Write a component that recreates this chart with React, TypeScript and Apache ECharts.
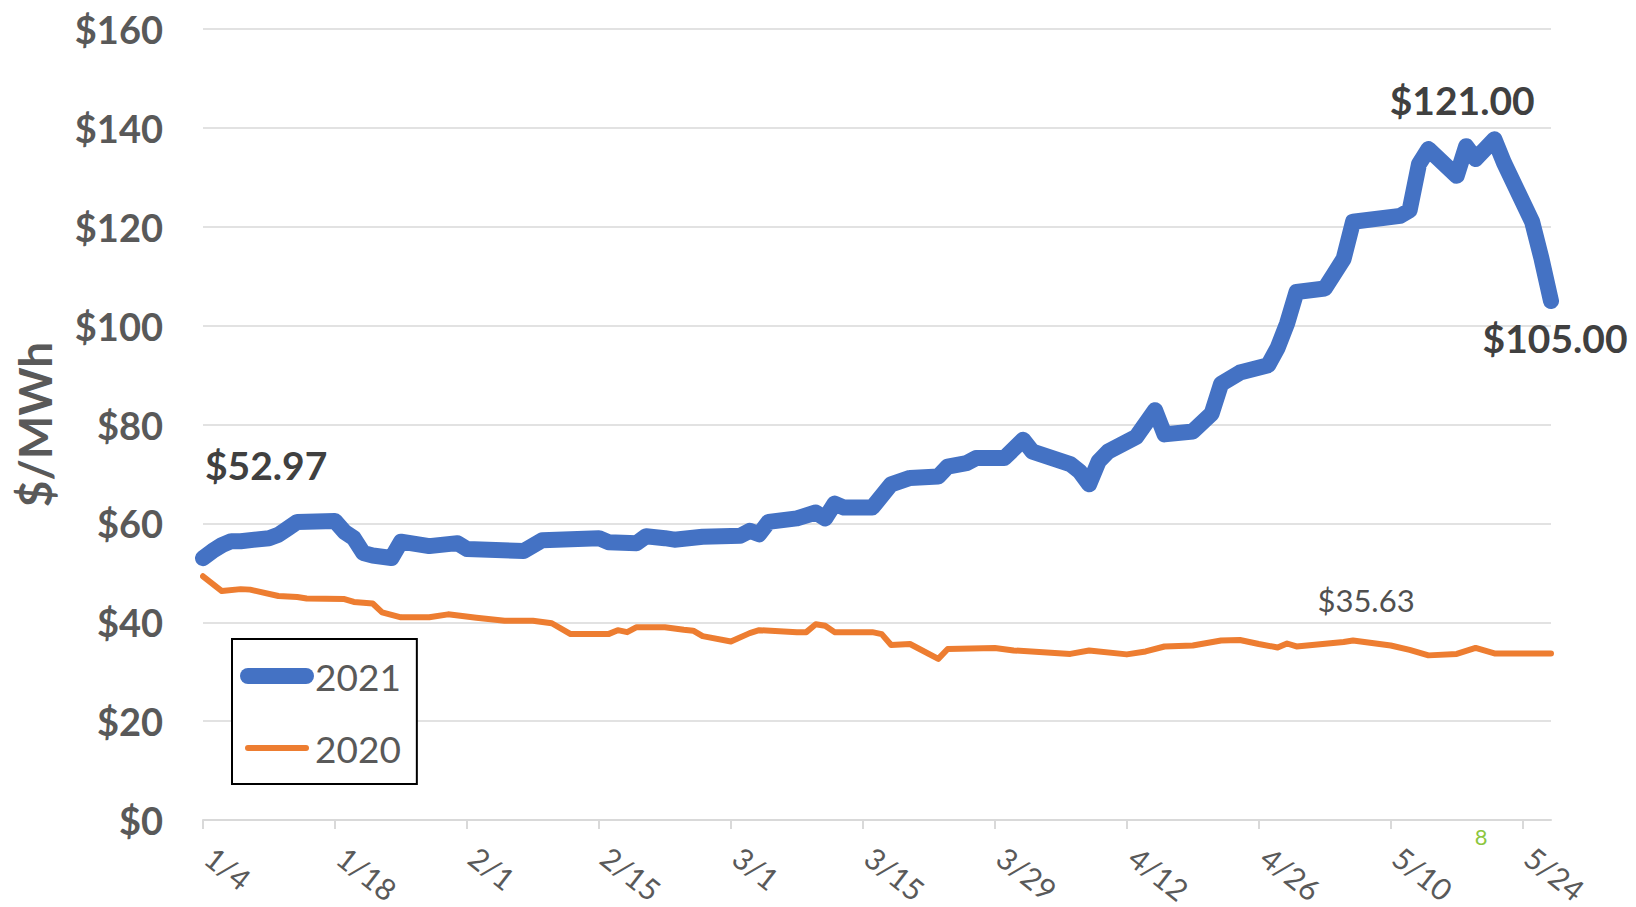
import React, { useEffect, useRef } from "react";
import * as echarts from "echarts";

// ---- data ----
const START = Date.UTC(2021, 0, 4);
const LAST_DATE = "5/27";
const xTickDates = ["1/4", "1/18", "2/1", "2/15", "3/1", "3/15", "3/29", "4/12", "4/26", "5/10", "5/24"];
const yTicks = [0, 20, 40, 60, 80, 100, 120, 140, 160];

const dates2021 = [
  "1/4", "1/5", "1/6", "1/7", "1/8", "1/11", "1/12", "1/13", "1/14", "1/18", "1/19", "1/20", "1/21", "1/22", "1/24",
  "1/25", "1/26", "1/28", "1/31", "2/1", "2/7", "2/9", "2/15", "2/16", "2/19", "2/20", "2/22", "2/23", "2/26",
  "3/2", "3/3", "3/4", "3/5", "3/8", "3/10", "3/11", "3/12", "3/13", "3/16", "3/18", "3/20", "3/23", "3/24",
  "3/26", "3/27", "3/30", "4/1", "4/2", "4/6", "4/7", "4/8", "4/9", "4/10", "4/13", "4/15", "4/16", "4/19",
  "4/21", "4/22", "4/24", "4/27", "4/28", "4/29", "4/30", "5/3", "5/4", "5/5", "5/6", "5/11", "5/12", "5/13",
  "5/14", "5/17", "5/18", "5/19", "5/21", "5/22", "5/25", "5/26", "5/27",
];
const prices2021 = [
  52.97, 54.4, 55.6, 56.4, 56.4, 57.0, 57.7, 59.0, 60.3, 60.5, 58.3, 57.0, 54.0, 53.5, 53.0,
  56.3, 56.0, 55.4, 56.0, 54.8, 54.4, 56.6, 57.0, 56.2, 56.0, 57.4, 57.0, 56.7, 57.3,
  57.5, 58.5, 57.8, 60.3, 61.0, 62.2, 61.0, 64.0, 63.2, 63.2, 67.9, 69.2, 69.5, 71.5,
  72.2, 73.2, 73.2, 76.9, 74.5, 72.0, 70.5, 67.9, 72.5, 74.5, 77.5, 82.9, 78.0, 78.6,
  82.2, 88.2, 90.5, 92.0, 95.5, 100.4, 106.8, 107.5, 110.5, 113.5, 121.0, 122.2, 123.3, 132.7,
  135.7, 130.3, 136.3, 133.7, 137.7, 133.0, 121.0, 113.5, 105.0,
];

const dates2020 = [
  "1/4", "1/6", "1/8", "1/9", "1/12", "1/14", "1/15", "1/19", "1/20", "1/22", "1/23", "1/25", "1/28", "1/30",
  "2/2", "2/5", "2/8", "2/10", "2/12", "2/16", "2/17", "2/18", "2/19", "2/22", "2/24", "2/25", "2/26",
  "3/1", "3/3", "3/4", "3/8", "3/9", "3/10", "3/11", "3/12", "3/16", "3/17", "3/18", "3/20", "3/23", "3/24",
  "3/29", "3/31", "4/6", "4/8", "4/12", "4/14", "4/16", "4/19", "4/22", "4/24", "4/26", "4/28", "4/29",
  "4/30", "5/5", "5/6", "5/10", "5/12", "5/14", "5/17", "5/19", "5/21", "5/27",
];
const prices2020 = [
  49.3, 46.3, 46.7, 46.6, 45.3, 45.1, 44.8, 44.7, 44.1, 43.8, 42.0, 41.0, 41.0, 41.6,
  40.9, 40.3, 40.3, 39.8, 37.6, 37.6, 38.4, 38.0, 39.0, 39.0, 38.5, 38.3, 37.2,
  36.1, 37.8, 38.4, 38.0, 38.0, 39.6, 39.3, 38.0, 38.0, 37.6, 35.4, 35.6, 32.6, 34.6,
  34.8, 34.3, 33.6, 34.3, 33.5, 34.1, 35.1, 35.3, 36.3, 36.4, 35.6, 34.9, 35.7,
  35.1, 36.0, 36.3, 35.3, 34.4, 33.3, 33.6, 34.8, 33.7, 33.7,
];

const labelDates2021 = ["1/4", "5/18", "5/27"];
const labelTexts2021 = ["$52.97", "$121.00", "$105.00"];
const labelDates2020 = ["5/6"];
const labelTexts2020 = ["$35.63"];

// ---- helpers ----
const dayOf = (md: string) => {
  const [m, d] = md.split("/").map(Number);
  return Math.round((Date.UTC(2021, m - 1, d) - START) / 86400000);
};
const dateLabel = (day: number) => {
  const dt = new Date(START + Math.round(day) * 86400000);
  return `${dt.getUTCMonth() + 1}/${dt.getUTCDate()}`;
};

const FONT = "Lato";
const GRAY = "#595959";
const DARK = "#404040";
const BLUE = "#4472C4";
const ORANGE = "#ED7D31";
const BLUE_W = 16;
const ORANGE_W = 6;

export default function App() {
  const ref = useRef<HTMLDivElement>(null);

  useEffect(() => {
    if (!ref.current) return;
    const chart = echarts.init(ref.current, null, { renderer: "svg" });

    const data2021 = dates2021.map((d, i) => [dayOf(d), prices2021[i]]);
    const data2020 = dates2020.map((d, i) => [dayOf(d), prices2020[i]]);
    const tickDays = xTickDates.map(dayOf);

    const labelStyle2021 = [
      { offset: [2, -93], align: "left" },
      { offset: [-4, -46], align: "center" },
      { offset: [4, 37], align: "center" },
    ];
    const labelStyle2020 = [{ offset: [13, -41], align: "center" }];

    const mp2021 = labelDates2021.map((d, i) => {
      const idx = dates2021.indexOf(d);
      return {
        coord: [dayOf(d), prices2021[idx]],
        label: {
          show: true,
          position: "inside",
          formatter: labelTexts2021[i],
          offset: labelStyle2021[i].offset,
          align: labelStyle2021[i].align,
          verticalAlign: "middle",
          color: DARK,
          fontFamily: FONT,
          fontWeight: "bold",
          fontSize: 39,
        },
      };
    });
    const mp2020 = labelDates2020.map((d, i) => {
      const idx = dates2020.indexOf(d);
      return {
        coord: [dayOf(d), prices2020[idx]],
        label: {
          show: true,
          position: "inside",
          formatter: labelTexts2020[i],
          offset: labelStyle2020[i].offset,
          align: labelStyle2020[i].align,
          verticalAlign: "middle",
          color: "#505050",
          fontFamily: FONT,
          fontWeight: "normal",
          fontSize: 31,
        },
      };
    });

    const hiddenSymbol = { color: "rgba(0,0,0,0)", opacity: 0, borderWidth: 0 };

    const option: any = {
      animation: false,
      backgroundColor: "#ffffff",
      grid: {
        left: 203,
        right: 85,
        top: 29,
        bottom: 87,
        containLabel: false,
        outerBoundsMode: "none",
      },
      legend: {
        data: [
          { name: "2021", itemStyle: hiddenSymbol, lineStyle: { width: BLUE_W, color: BLUE, cap: "round" } },
          { name: "2020", itemStyle: hiddenSymbol, lineStyle: { width: ORANGE_W, color: ORANGE, cap: "round" } },
        ],
        orient: "vertical",
        left: 232,
        top: 639,
        borderColor: "#000000",
        borderWidth: 2,
        padding: [15, 16, 14, 8],
        itemGap: 28,
        itemWidth: 58,
        itemHeight: 16,
        backgroundColor: "#ffffff",
        itemStyle: hiddenSymbol,
        lineStyle: { width: "inherit", cap: "round" },
        textStyle: { fontFamily: FONT, fontSize: 37, color: GRAY, lineHeight: 44, padding: [0, 0, 0, 4] },
      },
      xAxis: {
        type: "value",
        min: 0,
        max: dayOf(LAST_DATE),
        interval: 14,
        splitLine: { show: false },
        axisLine: { show: true, lineStyle: { color: "#D9D9D9", width: 2 } },
        axisTick: {
          show: true,
          length: 9,
          lineStyle: { color: "#D9D9D9", width: 2 },
          customValues: tickDays,
        },
        axisLabel: {
          customValues: tickDays,
          formatter: (v: number) => dateLabel(v),
          rotate: -38,
          margin: 28,
          padding: [0, 0, 0, 8],
          color: GRAY,
          fontFamily: FONT,
          fontSize: 30,
        },
      },
      yAxis: {
        type: "value",
        min: yTicks[0],
        max: yTicks[yTicks.length - 1],
        interval: 20,
        name: "$/MWh",
        nameLocation: "middle",
        nameRotate: 90,
        nameGap: 146,
        nameTextStyle: { fontFamily: FONT, fontSize: 46, fontWeight: "bold", color: GRAY },
        axisLine: { show: false },
        axisTick: { show: false },
        splitLine: { show: true, lineStyle: { color: "#D9D9D9", width: 1.5 } },
        axisLabel: {
          formatter: (v: number) => "$" + v,
          margin: 40,
          color: GRAY,
          fontFamily: FONT,
          fontWeight: "bold",
          fontSize: 38,
        },
      },
      series: [
        {
          name: "2020",
          type: "line",
          data: data2020,
          symbol: "none",
          z: 2,
          lineStyle: { color: ORANGE, width: ORANGE_W, join: "round", cap: "round" },
          itemStyle: { color: ORANGE },
          markPoint: {
            symbol: "circle",
            symbolSize: 1,
            silent: true,
            itemStyle: { color: "rgba(0,0,0,0)" },
            data: mp2020,
          },
        },
        {
          name: "2021",
          type: "line",
          data: data2021,
          symbol: "none",
          z: 3,
          lineStyle: { color: BLUE, width: BLUE_W, join: "round", cap: "round" },
          itemStyle: { color: BLUE },
          markPoint: {
            symbol: "circle",
            symbolSize: 1,
            silent: true,
            itemStyle: { color: "rgba(0,0,0,0)" },
            data: mp2021,
          },
        },
      ],
      graphic: [
        {
          type: "text",
          x: 1481,
          y: 836,
          style: {
            text: "8",
            fill: "#8CC63F",
            font: "22px Lato",
            textAlign: "center",
            textVerticalAlign: "middle",
          },
        },
      ],
    };

    chart.setOption(option);
    return () => chart.dispose();
  }, []);

  return (
    <div
      ref={ref}
      style={{ position: "fixed", left: 0, top: 0, width: 1636, height: 907, background: "#ffffff" }}
    />
  );
}
